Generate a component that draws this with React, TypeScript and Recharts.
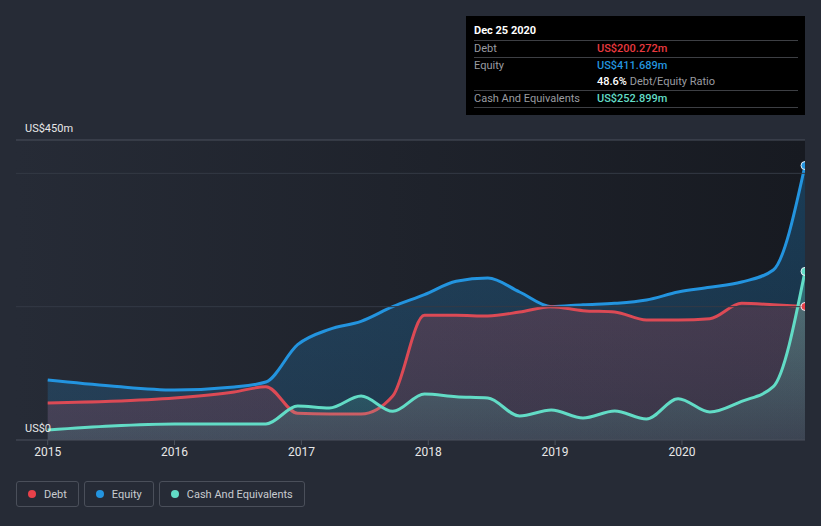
import React from 'react';
import {
  ComposedChart,
  Area,
  XAxis,
  YAxis,
  CartesianGrid,
  ReferenceLine,
} from 'recharts';

// fiscal quarter ends, as decimal years
const dates = [
  2015.0, 2015.5, 2016.0, 2016.47, 2016.72, 2016.97, 2017.22, 2017.47, 2017.72,
  2017.97, 2018.22, 2018.47, 2018.72, 2018.97, 2019.22, 2019.47, 2019.72,
  2019.97, 2020.22, 2020.47, 2020.72, 2020.97,
];
const debt = [
  55.5, 58, 63, 72, 80, 40, 39, 39, 66, 187, 187, 186, 192, 200, 194, 192, 180,
  180, 182, 205, 203, 200.272,
];
const equity = [
  90, 81, 75, 79.5, 87, 143, 166, 178, 200, 218, 238, 243, 222, 200, 203, 205,
  210, 222, 229, 237, 255, 411.689,
];
const cash = [
  15, 21, 24, 24, 24, 51, 48, 66, 43, 69, 65, 63, 36, 45, 33, 43.5, 31.5, 62,
  42, 58, 80, 252.899,
];
const yearTicks = [2015, 2016, 2017, 2018, 2019, 2020];
const yTicks = [0, 450];
const gridValues = [200, 400];

const data = dates.map((t, i) => ({
  t,
  debt: debt[i],
  equity: equity[i],
  cash: cash[i],
}));

const DEBT = '#dc4a55';
const EQUITY = '#2394df';
const CASH = '#62dcc6';
const FONT = 'Roboto, "Noto Sans", sans-serif';

const lastDot = (color: string) => (props: any) => {
  const { cx, cy, index } = props;
  if (index !== data.length - 1) return <g key={index} />;
  return (
    <circle key={index} cx={cx} cy={cy} r={4} fill={color} stroke="#e6eef5" strokeWidth={1} />
  );
};

const YTick = (props: any) => {
  const { y, payload } = props;
  const label = payload.value === 0 ? 'US$0' : `US$${payload.value}m`;
  return (
    <text x={25} y={y - 8} fill="#e8e8e8" fontSize={11} fontFamily={FONT}>
      {label}
    </text>
  );
};

const legendItems = [
  { name: 'Debt', color: '#e8414a' },
  { name: 'Equity', color: '#2394df' },
  { name: 'Cash And Equivalents', color: '#62dcc6' },
];

const rowLine = '1px solid #3d3f44';

export default function App() {
  return (
    <div
      style={{
        position: 'relative',
        width: 821,
        height: 526,
        background: '#262b36',
        fontFamily: FONT,
        overflow: 'hidden',
      }}
    >
      <style>{`body{margin:0}`}</style>
      <ComposedChart
        width={821}
        height={526}
        data={data}
        margin={{ top: 140, right: 16, bottom: 56, left: 15 }}
      >
        <defs>
          <linearGradient id="plotBg" x1="0" y1="0" x2="1" y2="0">
            <stop offset="0%" stopColor="#262b36" />
            <stop offset="100%" stopColor="#171a21" />
          </linearGradient>
          <linearGradient id="eqFill" x1="0" y1="0" x2="0" y2="1">
            <stop offset="0%" stopColor={EQUITY} stopOpacity={0.28} />
            <stop offset="100%" stopColor={EQUITY} stopOpacity={0.18} />
          </linearGradient>
          <linearGradient id="debtFill" x1="0" y1="0" x2="0" y2="1">
            <stop offset="0%" stopColor={DEBT} stopOpacity={0.22} />
            <stop offset="100%" stopColor={DEBT} stopOpacity={0.16} />
          </linearGradient>
          <linearGradient id="cashFill" x1="0" y1="0" x2="0" y2="1">
            <stop offset="0%" stopColor={CASH} stopOpacity={0.35} />
            <stop offset="100%" stopColor={CASH} stopOpacity={0.1} />
          </linearGradient>
        </defs>
        <CartesianGrid horizontal={false} vertical={false} fill="url(#plotBg)" />
        {gridValues.map((v) => (
          <ReferenceLine key={v} y={v} stroke="#343a45" strokeWidth={1} />
        ))}
        <ReferenceLine y={450} stroke="#4b515c" strokeWidth={1} />
        <XAxis
          dataKey="t"
          type="number"
          domain={[2014.75, 2020.97]}
          ticks={yearTicks}
          allowDataOverflow
          height={30}
          tickSize={5}
          tickMargin={2}
          stroke="#4b515c"
          tick={{ fill: '#e8e8e8', fontSize: 12, fontFamily: FONT }}
        />
        <YAxis
          domain={[0, 450]}
          ticks={yTicks}
          width={1}
          axisLine={false}
          tickLine={false}
          tick={<YTick />}
          interval={0}
          allowDataOverflow
        />
        <Area
          type="monotone"
          dataKey="equity"
          stroke={EQUITY}
          strokeWidth={3}
          fill="url(#eqFill)"
          fillOpacity={1}
          dot={lastDot(EQUITY)}
          activeDot={false}
          isAnimationActive={false}
        />
        <Area
          type="monotone"
          dataKey="debt"
          stroke={DEBT}
          strokeWidth={3}
          fill="url(#debtFill)"
          fillOpacity={1}
          dot={lastDot('#e8414a')}
          activeDot={false}
          isAnimationActive={false}
        />
        <Area
          type="monotone"
          dataKey="cash"
          stroke={CASH}
          strokeWidth={3}
          fill="url(#cashFill)"
          fillOpacity={1}
          dot={lastDot(CASH)}
          activeDot={false}
          isAnimationActive={false}
        />
      </ComposedChart>

      <div
        style={{
          position: 'absolute',
          left: 466,
          top: 16,
          width: 339,
          height: 99,
          background: '#000',
          boxSizing: 'border-box',
          padding: '6px 7px 0 8px',
          fontSize: 11,
        }}
      >
        <div
          style={{
            height: 18,
            lineHeight: '18px',
            color: '#fff',
            fontWeight: 700,
            borderBottom: rowLine,
          }}
        >
          Dec 25 2020
        </div>
        <div style={{ display: 'flex', height: 16, lineHeight: '16px', borderBottom: rowLine }}>
          <span style={{ width: 123, color: '#9a9ca1' }}>Debt</span>
          <span style={{ color: '#e8393f', fontWeight: 500 }}>US$200.272m</span>
        </div>
        <div style={{ display: 'flex', height: 16, lineHeight: '16px' }}>
          <span style={{ width: 123, color: '#9a9ca1' }}>Equity</span>
          <span style={{ color: '#2394df', fontWeight: 500 }}>US$411.689m</span>
        </div>
        <div style={{ display: 'flex', height: 16, lineHeight: '16px', borderBottom: rowLine }}>
          <span style={{ width: 123 }} />
          <span style={{ color: '#fff', fontWeight: 500 }}>
            48.6% <span style={{ color: '#9a9ca1', fontWeight: 400 }}>Debt/Equity Ratio</span>
          </span>
        </div>
        <div style={{ display: 'flex', height: 16, lineHeight: '16px', borderBottom: rowLine }}>
          <span style={{ width: 123, color: '#9a9ca1' }}>Cash And Equivalents</span>
          <span style={{ color: '#62dcc6', fontWeight: 500 }}>US$252.899m</span>
        </div>
      </div>

      <div style={{ position: 'absolute', left: 16, top: 481, display: 'flex', gap: 5 }}>
        {legendItems.map((it) => (
          <div
            key={it.name}
            style={{
              height: 26,
              boxSizing: 'border-box',
              border: '1px solid #4a4f5a',
              borderRadius: 3,
              display: 'flex',
              alignItems: 'center',
              padding: '0 11px 0 11px',
              fontSize: 11,
              color: '#c8cbd0',
            }}
          >
            <span
              style={{
                width: 8,
                height: 8,
                borderRadius: 4,
                background: it.color,
                marginRight: 8,
              }}
            />
            {it.name}
          </div>
        ))}
      </div>
    </div>
  );
}
